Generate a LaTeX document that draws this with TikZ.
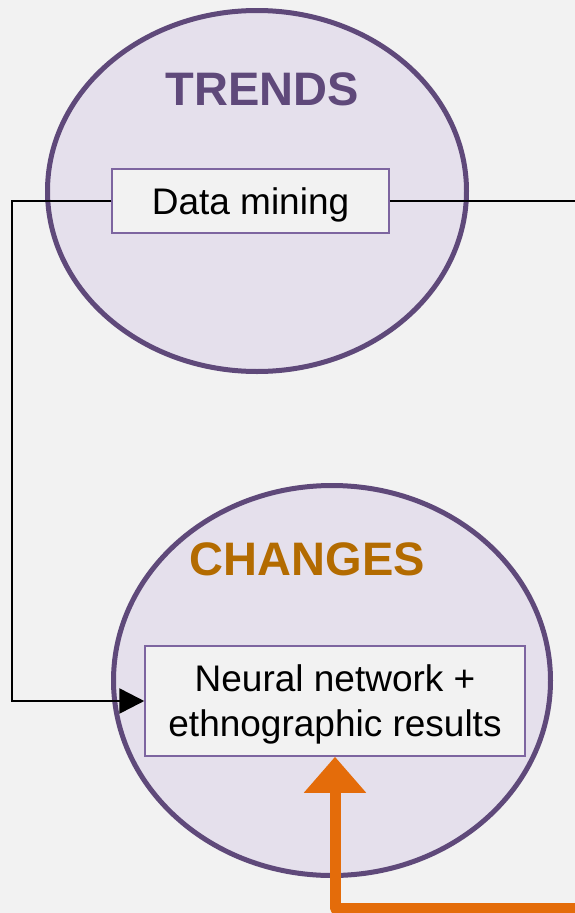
\documentclass[tikz,border=0pt]{standalone}
\usepackage{fontspec}
\setmainfont{Liberation Sans}
\usetikzlibrary{arrows.meta}
\usetikzlibrary{positioning}
\usetikzlibrary{shapes.geometric}

\definecolor{bgGray}{HTML}{F2F2F2}
\definecolor{purpleLine}{HTML}{5F497A}
\definecolor{purpleFill}{HTML}{E5E0EC}
\definecolor{boxLine}{HTML}{7D65A0}
\definecolor{changeOrange}{HTML}{B36B00}
\definecolor{arrowOrange}{HTML}{E46C0A}

\begin{document}
\begin{tikzpicture}[x=1pt,y=-1pt,
    bubble/.style={ellipse, draw=purpleLine, fill=purpleFill, line width=5pt, inner sep=0pt},
    box/.style={rectangle, draw=boxLine, fill=bgGray, line width=1.5pt, inner sep=0pt, text depth=0pt, align=center, font=\fontsize{37}{45}\selectfont},
    headline/.style={font=\fontsize{47}{50}\selectfont\bfseries, anchor=base, inner sep=0pt}]
            \useasboundingbox (0,0) rectangle (575,913);
            \fill[bgGray] (0,0) rectangle (575,913);
            \node[bubble, minimum width=419pt, minimum height=361pt] (trends) at (257,191) {};
            \node[bubble, minimum width=437pt, minimum height=390pt] (changes) at (332,680.5) {};
            \node[headline, purpleLine] (trends_t) at (262,105) {TRENDS};
            \node[headline, changeOrange] (changes_t) at (307.5,575) {CHANGES};
            \node[box, minimum width=277pt, minimum height=64pt] (mining) at (250.5,201) {Data mining};
            \node[box, minimum width=380pt, minimum height=110pt] (neural) at (335,701) {Neural network +\\ ethnographic results};
            \coordinate (left_turn) at (12,201);
            \coordinate (right_end) at (575,201);
            \coordinate (orange_end) at (575,908);
            \draw[line width=2.6pt] (mining.east) -- (right_end);
            \draw[-{Triangle[length=25pt,width=25pt]}, line width=2.6pt] (mining.west) -- (left_turn) |- (neural.west);
            \draw[-{Triangle[length=36pt,width=60pt]}, arrowOrange, line width=11pt, line join=round] (orange_end) -| (neural.south);
\end{tikzpicture}
\end{document}
